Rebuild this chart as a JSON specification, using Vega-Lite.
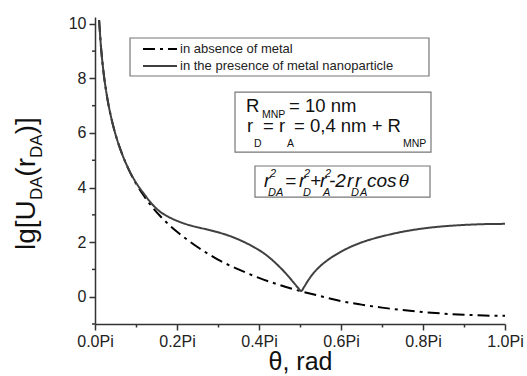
{
  "$schema": "https://vega.github.io/schema/vega-lite/v6.json",
  "width": 410,
  "height": 307,
  "autosize": {"type": "none"},
  "padding": {"left": 95, "top": 17, "right": 22, "bottom": 52},
  "config": {
    "view": {"stroke": null},
    "font": "Liberation Sans",
    "axis": {
      "grid": false,
      "domainColor": "#333333",
      "domainWidth": 1.5,
      "tickColor": "#333333",
      "tickWidth": 1.5,
      "labelColor": "#222222",
      "labelFont": "Liberation Sans",
      "labelFontSize": 16,
      "labelOverlap": false,
      "titleFont": "Liberation Sans",
      "titleFontWeight": "normal",
      "titleColor": "#111111"
    }
  },
  "layer": [
    {
      "data": {"values": [
        {"t": 0.01, "v": 10.14, "series": "in absence of metal"},
        {"t": 0.015, "v": 9.08, "series": "in absence of metal"},
        {"t": 0.02, "v": 8.33, "series": "in absence of metal"},
        {"t": 0.03, "v": 7.28, "series": "in absence of metal"},
        {"t": 0.04, "v": 6.53, "series": "in absence of metal"},
        {"t": 0.05, "v": 5.95, "series": "in absence of metal"},
        {"t": 0.06, "v": 5.48, "series": "in absence of metal"},
        {"t": 0.07, "v": 5.08, "series": "in absence of metal"},
        {"t": 0.08, "v": 4.73, "series": "in absence of metal"},
        {"t": 0.09, "v": 4.42, "series": "in absence of metal"},
        {"t": 0.10, "v": 4.15, "series": "in absence of metal"},
        {"t": 0.12, "v": 3.68, "series": "in absence of metal"},
        {"t": 0.14, "v": 3.28, "series": "in absence of metal"},
        {"t": 0.16, "v": 2.94, "series": "in absence of metal"},
        {"t": 0.18, "v": 2.64, "series": "in absence of metal"},
        {"t": 0.20, "v": 2.38, "series": "in absence of metal"},
        {"t": 0.225, "v": 2.09, "series": "in absence of metal"},
        {"t": 0.25, "v": 1.82, "series": "in absence of metal"},
        {"t": 0.275, "v": 1.58, "series": "in absence of metal"},
        {"t": 0.30, "v": 1.36, "series": "in absence of metal"},
        {"t": 0.35, "v": 1.0, "series": "in absence of metal"},
        {"t": 0.40, "v": 0.69, "series": "in absence of metal"},
        {"t": 0.45, "v": 0.43, "series": "in absence of metal"},
        {"t": 0.50, "v": 0.21, "series": "in absence of metal"},
        {"t": 0.55, "v": 0.02, "series": "in absence of metal"},
        {"t": 0.60, "v": -0.16, "series": "in absence of metal"},
        {"t": 0.65, "v": -0.29, "series": "in absence of metal"},
        {"t": 0.70, "v": -0.40, "series": "in absence of metal"},
        {"t": 0.75, "v": -0.49, "series": "in absence of metal"},
        {"t": 0.80, "v": -0.56, "series": "in absence of metal"},
        {"t": 0.85, "v": -0.62, "series": "in absence of metal"},
        {"t": 0.90, "v": -0.66, "series": "in absence of metal"},
        {"t": 0.95, "v": -0.69, "series": "in absence of metal"},
        {"t": 1.0, "v": -0.70, "series": "in absence of metal"},
        {"t": 0.01, "v": 10.14, "series": "in the presence of metal nanoparticle"},
        {"t": 0.015, "v": 9.08, "series": "in the presence of metal nanoparticle"},
        {"t": 0.02, "v": 8.33, "series": "in the presence of metal nanoparticle"},
        {"t": 0.03, "v": 7.28, "series": "in the presence of metal nanoparticle"},
        {"t": 0.04, "v": 6.53, "series": "in the presence of metal nanoparticle"},
        {"t": 0.05, "v": 5.95, "series": "in the presence of metal nanoparticle"},
        {"t": 0.06, "v": 5.48, "series": "in the presence of metal nanoparticle"},
        {"t": 0.07, "v": 5.08, "series": "in the presence of metal nanoparticle"},
        {"t": 0.08, "v": 4.74, "series": "in the presence of metal nanoparticle"},
        {"t": 0.09, "v": 4.44, "series": "in the presence of metal nanoparticle"},
        {"t": 0.10, "v": 4.18, "series": "in the presence of metal nanoparticle"},
        {"t": 0.11, "v": 3.96, "series": "in the presence of metal nanoparticle"},
        {"t": 0.12, "v": 3.76, "series": "in the presence of metal nanoparticle"},
        {"t": 0.13, "v": 3.56, "series": "in the presence of metal nanoparticle"},
        {"t": 0.14, "v": 3.38, "series": "in the presence of metal nanoparticle"},
        {"t": 0.15, "v": 3.23, "series": "in the presence of metal nanoparticle"},
        {"t": 0.16, "v": 3.10, "series": "in the presence of metal nanoparticle"},
        {"t": 0.18, "v": 2.92, "series": "in the presence of metal nanoparticle"},
        {"t": 0.20, "v": 2.78, "series": "in the presence of metal nanoparticle"},
        {"t": 0.22, "v": 2.67, "series": "in the presence of metal nanoparticle"},
        {"t": 0.24, "v": 2.58, "series": "in the presence of metal nanoparticle"},
        {"t": 0.26, "v": 2.51, "series": "in the presence of metal nanoparticle"},
        {"t": 0.28, "v": 2.44, "series": "in the presence of metal nanoparticle"},
        {"t": 0.30, "v": 2.36, "series": "in the presence of metal nanoparticle"},
        {"t": 0.32, "v": 2.27, "series": "in the presence of metal nanoparticle"},
        {"t": 0.34, "v": 2.16, "series": "in the presence of metal nanoparticle"},
        {"t": 0.36, "v": 2.03, "series": "in the presence of metal nanoparticle"},
        {"t": 0.38, "v": 1.88, "series": "in the presence of metal nanoparticle"},
        {"t": 0.40, "v": 1.71, "series": "in the presence of metal nanoparticle"},
        {"t": 0.42, "v": 1.50, "series": "in the presence of metal nanoparticle"},
        {"t": 0.44, "v": 1.24, "series": "in the presence of metal nanoparticle"},
        {"t": 0.46, "v": 0.94, "series": "in the presence of metal nanoparticle"},
        {"t": 0.48, "v": 0.60, "series": "in the presence of metal nanoparticle"},
        {"t": 0.495, "v": 0.33, "series": "in the presence of metal nanoparticle"},
        {"t": 0.503, "v": 0.21, "series": "in the presence of metal nanoparticle"},
        {"t": 0.51, "v": 0.36, "series": "in the presence of metal nanoparticle"},
        {"t": 0.52, "v": 0.60, "series": "in the presence of metal nanoparticle"},
        {"t": 0.535, "v": 0.90, "series": "in the presence of metal nanoparticle"},
        {"t": 0.55, "v": 1.13, "series": "in the presence of metal nanoparticle"},
        {"t": 0.57, "v": 1.37, "series": "in the presence of metal nanoparticle"},
        {"t": 0.60, "v": 1.65, "series": "in the presence of metal nanoparticle"},
        {"t": 0.63, "v": 1.87, "series": "in the presence of metal nanoparticle"},
        {"t": 0.66, "v": 2.04, "series": "in the presence of metal nanoparticle"},
        {"t": 0.70, "v": 2.21, "series": "in the presence of metal nanoparticle"},
        {"t": 0.75, "v": 2.38, "series": "in the presence of metal nanoparticle"},
        {"t": 0.80, "v": 2.50, "series": "in the presence of metal nanoparticle"},
        {"t": 0.85, "v": 2.58, "series": "in the presence of metal nanoparticle"},
        {"t": 0.90, "v": 2.63, "series": "in the presence of metal nanoparticle"},
        {"t": 0.95, "v": 2.66, "series": "in the presence of metal nanoparticle"},
        {"t": 1.0, "v": 2.67, "series": "in the presence of metal nanoparticle"}
      ]},
      "mark": {"type": "line", "strokeWidth": 2, "interpolate": "monotone"},
      "encoding": {
        "x": {
          "field": "t", "type": "quantitative",
          "scale": {"domain": [0, 1], "nice": false, "zero": false},
          "axis": {
            "values": [0, 0.1, 0.2, 0.3, 0.4, 0.5, 0.6, 0.7, 0.8, 0.9, 1.0],
            "labelExpr": "round(datum.value*10) % 2 == 0 ? format(datum.value, '.1f') + 'Pi' : ''",
            "tickSize": {"condition": {"test": "round(datum.value*10) % 2 == 1", "value": 3}, "value": 6},
            "labelFlush": false,
            "labelPadding": 3,
            "title": "θ, rad",
            "titleFontSize": 25,
            "titlePadding": 0
          }
        },
        "y": {
          "field": "v", "type": "quantitative",
          "scale": {"domain": [-1, 10.25], "nice": false, "zero": false},
          "axis": {
            "values": [0, 2, 4, 6, 8, 10],
            "format": "d",
            "tickSize": 6,
            "labelPadding": 3,
            "title": null
          }
        },
        "color": {
          "field": "series", "type": "nominal",
          "scale": {"domain": ["in absence of metal", "in the presence of metal nanoparticle"], "range": ["#000000", "#404040"]},
          "legend": null
        },
        "strokeDash": {
          "field": "series", "type": "nominal",
          "scale": {"domain": ["in absence of metal", "in the presence of metal nanoparticle"], "range": [[12, 5, 3, 5], [1, 0]]},
          "legend": null
        }
      }
    },
    {
      "data": {"values": [
        {"t": -0.0073, "t2": 0, "v": -1},
        {"t": -0.0073, "t2": 0, "v": 1},
        {"t": -0.0073, "t2": 0, "v": 3},
        {"t": -0.0073, "t2": 0, "v": 5},
        {"t": -0.0073, "t2": 0, "v": 7},
        {"t": -0.0073, "t2": 0, "v": 9}
      ]},
      "mark": {"type": "rule", "stroke": "#333333", "strokeWidth": 1.5},
      "encoding": {
        "x": {"field": "t", "type": "quantitative"},
        "x2": {"field": "t2"},
        "y": {"field": "v", "type": "quantitative"}
      }
    },
    {
      "data": {"values": [
        {"t": 0.0854, "t2": 0.8146, "v": 9.48, "v2": 8.088},
        {"t": 0.3415, "t2": 0.8195, "v": 7.50, "v2": 5.30},
        {"t": 0.3902, "t2": 0.8171, "v": 4.79, "v2": 3.65}
      ]},
      "mark": {"type": "rect", "fill": "#ffffff", "stroke": "#777777", "strokeWidth": 1.2},
      "encoding": {
        "x": {"field": "t", "type": "quantitative"},
        "x2": {"field": "t2"},
        "y": {"field": "v", "type": "quantitative"},
        "y2": {"field": "v2"}
      }
    },
    {
      "data": {"values": [
        {"t": 0.1171, "t2": 0.2, "v": 9.077, "series": "in absence of metal"},
        {"t": 0.1171, "t2": 0.2, "v": 8.454, "series": "in the presence of metal nanoparticle"}
      ]},
      "mark": {"type": "rule", "strokeWidth": 2},
      "encoding": {
        "x": {"field": "t", "type": "quantitative"},
        "x2": {"field": "t2"},
        "y": {"field": "v", "type": "quantitative"},
        "color": {"field": "series", "type": "nominal", "legend": null},
        "strokeDash": {"field": "series", "type": "nominal", "legend": null}
      }
    },
    {
      "data": {"values": [
        {"t": 0.2073, "v": 9.077, "s": "in absence of metal"},
        {"t": 0.2073, "v": 8.454, "s": "in the presence of metal nanoparticle"}
      ]},
      "mark": {"type": "text", "font": "Liberation Sans", "fontSize": 13, "align": "left", "baseline": "middle", "color": "#222222"},
      "encoding": {
        "x": {"field": "t", "type": "quantitative"},
        "y": {"field": "v", "type": "quantitative"},
        "text": {"field": "s"}
      }
    },
    {
      "data": {"values": [
        {"t": 0.3683, "v": 6.77, "s": "R"},
        {"t": 0.4732, "v": 6.77, "s": "= 10 nm"},
        {"t": 0.3707, "v": 6.04, "s": "r"},
        {"t": 0.4098, "v": 6.04, "s": "= r"},
        {"t": 0.4854, "v": 6.04, "s": "= 0,4 nm + R"}
      ]},
      "mark": {"type": "text", "font": "Liberation Sans", "fontSize": 18.5, "align": "left", "baseline": "alphabetic", "color": "#111111"},
      "encoding": {
        "x": {"field": "t", "type": "quantitative"},
        "y": {"field": "v", "type": "quantitative"},
        "text": {"field": "s"}
      }
    },
    {
      "data": {"values": [
        {"t": 0.4073, "v": 6.55, "s": "MNP"},
        {"t": 0.3878, "v": 5.49, "s": "D"},
        {"t": 0.4683, "v": 5.49, "s": "A"},
        {"t": 0.7512, "v": 5.49, "s": "MNP"}
      ]},
      "mark": {"type": "text", "font": "Liberation Sans", "fontSize": 10.5, "align": "left", "baseline": "alphabetic", "color": "#111111"},
      "encoding": {
        "x": {"field": "t", "type": "quantitative"},
        "y": {"field": "v", "type": "quantitative"},
        "text": {"field": "s"}
      }
    },
    {
      "data": {"values": [
        {"t": 0.4122, "v": 4.02, "s": "r"},
        {"t": 0.4634, "v": 4.02, "s": "="},
        {"t": 0.4976, "v": 4.02, "s": "r"},
        {"t": 0.5244, "v": 4.02, "s": "+"},
        {"t": 0.5488, "v": 4.02, "s": "r"},
        {"t": 0.5707, "v": 4.02, "s": "-2"},
        {"t": 0.6146, "v": 4.02, "s": "r"},
        {"t": 0.6341, "v": 4.02, "s": "r"},
        {"t": 0.6634, "v": 4.02, "s": "cos"}
      ]},
      "mark": {"type": "text", "font": "Liberation Sans", "fontSize": 19, "fontStyle": "italic", "align": "left", "baseline": "alphabetic", "color": "#111111"},
      "encoding": {
        "x": {"field": "t", "type": "quantitative"},
        "y": {"field": "v", "type": "quantitative"},
        "text": {"field": "s"}
      }
    },
    {
      "data": {"values": [
        {"t": 0.4268, "v": 4.39, "s": "2"},
        {"t": 0.4220, "v": 3.69, "s": "DA"},
        {"t": 0.5098, "v": 4.39, "s": "2"},
        {"t": 0.5073, "v": 3.69, "s": "D"},
        {"t": 0.5610, "v": 4.39, "s": "2"},
        {"t": 0.5561, "v": 3.69, "s": "A"},
        {"t": 0.6244, "v": 3.69, "s": "D"},
        {"t": 0.6463, "v": 3.69, "s": "A"}
      ]},
      "mark": {"type": "text", "font": "Liberation Sans", "fontSize": 11, "fontStyle": "italic", "align": "left", "baseline": "alphabetic", "color": "#111111"},
      "encoding": {
        "x": {"field": "t", "type": "quantitative"},
        "y": {"field": "v", "type": "quantitative"},
        "text": {"field": "s"}
      }
    },
    {
      "data": {"values": [
        {"t": 0.7415, "v": 4.02, "s": "θ"}
      ]},
      "mark": {"type": "text", "font": "DejaVu Serif", "fontSize": 17, "fontStyle": "italic", "align": "left", "baseline": "alphabetic", "color": "#111111"},
      "encoding": {
        "x": {"field": "t", "type": "quantitative"},
        "y": {"field": "v", "type": "quantitative"},
        "text": {"field": "s"}
      }
    },
    {
      "data": {"values": [
        {"t": -0.1463, "v": 1.71, "s": "lg[U"},
        {"t": -0.1463, "v": 4.40, "s": "(r"},
        {"t": -0.1463, "v": 5.95, "s": ")]"}
      ]},
      "mark": {"type": "text", "font": "Liberation Sans", "fontSize": 28, "angle": 270, "align": "left", "baseline": "alphabetic", "color": "#111111"},
      "encoding": {
        "x": {"field": "t", "type": "quantitative"},
        "y": {"field": "v", "type": "quantitative"},
        "text": {"field": "s"}
      }
    },
    {
      "data": {"values": [
        {"t": -0.1293, "v": 3.54, "s": "DA"},
        {"t": -0.1293, "v": 5.08, "s": "DA"}
      ]},
      "mark": {"type": "text", "font": "Liberation Sans", "fontSize": 17, "angle": 270, "align": "left", "baseline": "alphabetic", "color": "#111111"},
      "encoding": {
        "x": {"field": "t", "type": "quantitative"},
        "y": {"field": "v", "type": "quantitative"},
        "text": {"field": "s"}
      }
    }
  ]
}
